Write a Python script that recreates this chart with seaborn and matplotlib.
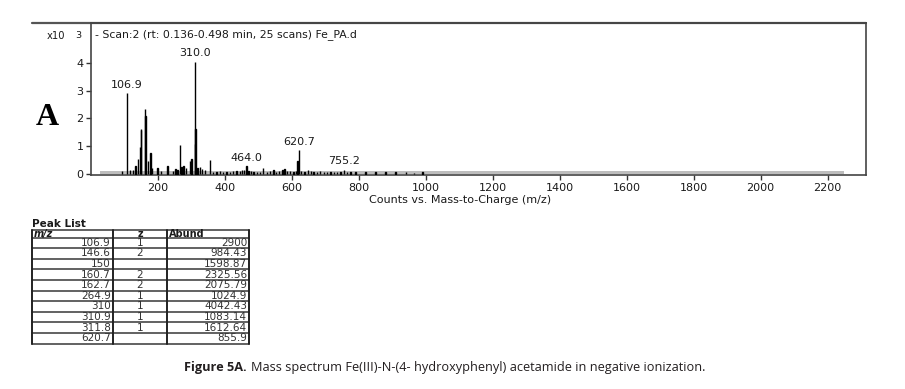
import matplotlib
matplotlib.use('Agg')
import matplotlib.pyplot as plt
import numpy as np
import pandas as pd
import seaborn as sns

# ==================================================================================
# Data
# Peak list table (m/z, z, abundance)
table_mz = [106.9, 146.6, 150, 160.7, 162.7, 264.9, 310, 310.9, 311.8, 620.7]
table_z = ['1', '2', '', '2', '2', '1', '1', '1', '1', '']
table_abund = [2900, 984.43, 1598.87, 2325.56, 2075.79, 1024.9, 4042.43, 1083.14, 1612.64, 855.9]

# Smaller peaks of the spectrum (estimated from the plot)
minor_mz = [92, 117, 125, 133, 140, 148.5, 170, 178, 183, 199, 210, 229, 245, 252, 258,
            270, 276, 283, 296, 300, 318, 325, 332, 340, 355, 365, 375, 385, 395, 405,
            415, 425, 435, 445, 452, 458, 464.0, 470, 478, 485, 495, 505, 514, 525, 535,
            545, 553, 562, 572, 578, 585, 595, 605, 612, 617, 628, 638, 648, 657, 665,
            675, 685, 695, 705, 715, 725, 735, 745, 755.2, 765, 775, 790, 820, 850, 880,
            910, 940, 965, 990]
minor_ab = [100, 130, 150, 300, 550, 1580, 450, 760, 200, 200, 120, 300, 120, 180, 150,
            250, 300, 200, 450, 520, 200, 250, 180, 150, 500, 80, 60, 90, 60, 80,
            70, 90, 100, 120, 150, 130, 280, 120, 100, 80, 60, 80, 200, 70, 90,
            130, 80, 110, 150, 190, 120, 90, 80, 120, 450, 100, 80, 150, 90, 80,
            70, 90, 60, 70, 60, 80, 70, 60, 150, 60, 50, 50, 60, 50, 55,
            50, 50, 45, 50]

label_mz = [106.9, 310.0, 464.0, 620.7, 755.2]

x_ticks = [200, 400, 600, 800, 1000, 1200, 1400, 1600, 1800, 2000, 2200]
y_ticks = [0, 1, 2, 3, 4]

title_text = '- Scan:2 (rt: 0.136-0.498 min, 25 scans) Fe_PA.d'
x_label = 'Counts vs. Mass-to-Charge (m/z)'
caption_bold = 'Figure 5A.'
caption_rest = 'Mass spectrum Fe(III)-N-(4- hydroxyphenyl) acetamide in negative ionization.'

# ==================================================================================
sns.set_theme(style='ticks')
plt.rcParams['font.family'] = ['DejaVu Sans']

W, H = 905, 389
fig = plt.figure(figsize=(W / 100, H / 100), dpi=100)

# overlay in pixel coordinates for the decorations outside the plot
ov = fig.add_axes([0, 0, 1, 1])
ov.set_xlim(0, W)
ov.set_ylim(H, 0)
ov.axis('off')

# main spectrum axes
left, right, top, bottom = 91, 866, 22.7, 175
ax = fig.add_axes([left / W, (H - bottom) / H, (right - left) / W, (bottom - top) / H])
ax.patch.set_alpha(0)

spec = pd.DataFrame({'mz': table_mz + minor_mz,
                     'ab': [a / 1000 for a in table_abund + minor_ab]})

# gray baseline band
ax.fill_between([28, 2250], 0, 0.1, color='#bdbdbd', lw=0, zorder=1)

sns.histplot(data=spec, x='mz', weights='ab', binwidth=1, binrange=(0.5, 1000.5),
             color='black', edgecolor='black', linewidth=1.0, alpha=1, ax=ax, zorder=3)
for p in list(ax.patches):
    if p.get_height() == 0:
        p.remove()

for m in label_mz:
    h = spec.loc[(spec.mz - m).abs() < 0.6, 'ab'].max()
    ax.annotate(f'{m:.1f}', xy=(m, h), xytext=(0, 2.5), textcoords='offset points',
                ha='center', va='bottom', fontsize=8, color='#1a1a1a')

ax.set_xlim(0, 2315)
ax.set_ylim(-0.04, 5.44)
ax.set_xticks(x_ticks)
ax.set_yticks(y_ticks)
ax.tick_params(axis='both', labelsize=8, length=3.5, width=1, color='#333',
               labelcolor='#1a1a1a', pad=2)
ax.set_ylabel('')
ax.set_xlabel(x_label, fontsize=8, color='#1a1a1a', labelpad=3)
ax.xaxis.set_label_coords((460 - left) / (right - left), -0.13)
for s in ax.spines.values():
    s.set_visible(True)
    s.set_color('#444')
    s.set_linewidth(1.2)

ax.text(0.005, 0.92, title_text, transform=ax.transAxes, fontsize=7.8, color='#1a1a1a',
        ha='left', va='center')

# top rule extending left of the plot
ov.plot([32, right], [22.7, 22.7], color='#555', lw=1.6)
ov.text(56, 36, 'x10', fontsize=7.2, color='#1a1a1a', ha='center', va='center')
ov.text(78, 35.5, '3', fontsize=6.8, color='#1a1a1a', ha='center', va='center')
ov.text(47, 117, 'A', family='Liberation Serif', fontsize=23, fontweight='bold',
        color='black', ha='center', va='center')

# ==================================================================================
# Peak list table
col_x = [32, 113, 167, 249]
t_top, h_bot, row_h = 230, 237.5, 10.6
ov.text(32, 224, 'Peak List', fontsize=7.5, fontweight='bold', color='#1a1a1a',
        ha='left', va='center')
n = len(table_mz)
row_y = [h_bot + i * row_h for i in range(n + 1)]
for y in [t_top] + row_y:
    ov.plot([col_x[0], col_x[-1]], [y, y], color='#555', lw=1.3)
for x in col_x:
    ov.plot([x, x], [t_top, row_y[-1]], color='#222', lw=1.4)
hy = (t_top + h_bot) / 2
ov.text(34, hy, 'm/z', fontsize=7, fontweight='bold', style='italic', color='#1a1a1a',
        ha='left', va='center')
ov.text(140, hy, 'z', fontsize=7, fontweight='bold', color='#1a1a1a', ha='center', va='center')
ov.text(169, hy, 'Abund', fontsize=7, fontweight='bold', color='#1a1a1a', ha='left', va='center')
for i in range(n):
    cy = row_y[i] + row_h / 2
    ov.text(111, cy, f'{table_mz[i]:g}', fontsize=7.5, color='#333', ha='right', va='center')
    ov.text(140, cy, table_z[i], fontsize=7.5, color='#333', ha='center', va='center')
    ov.text(247, cy, f'{table_abund[i]:g}', fontsize=7.5, color='#333', ha='right', va='center')

# caption
ov.text(247, 368, caption_bold, family='Open Sans', fontweight='bold', fontsize=9.2,
        color='#231f20', ha='right', va='center')
ov.text(251, 368, caption_rest, family='Open Sans', fontsize=9.2,
        color='#231f20', ha='left', va='center')

fig.savefig('out.png', dpi=100)
